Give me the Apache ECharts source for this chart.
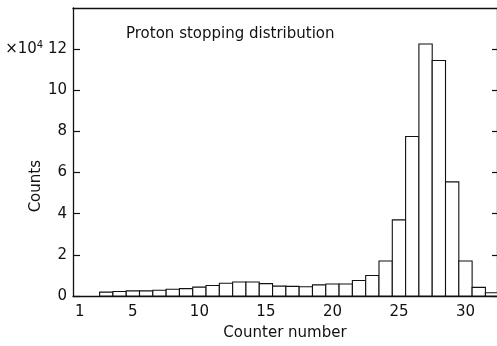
<!DOCTYPE html>
<html>
<head>
<meta charset="utf-8">
<script src="https://cdn.jsdelivr.net/npm/echarts@6/dist/echarts.min.js"></script>
<style>
  html, body { margin: 0; padding: 0; background: #fff; }
  #chart { width: 497px; height: 346px; }
</style>
</head>
<body>
<div id="chart"></div>
<script>
// counter numbers and counts (in units of 10^4)
var counters = [3, 4, 5, 6, 7, 8, 9, 10, 11, 12, 13, 14, 15, 16, 17, 18, 19, 20, 21, 22, 23, 24, 25, 26, 27, 28, 29, 30, 31, 32];
var counts = [0.19, 0.22, 0.25, 0.25, 0.28, 0.33, 0.36, 0.43, 0.51, 0.62, 0.68, 0.68, 0.6, 0.48, 0.47, 0.45, 0.54, 0.58, 0.58, 0.75, 1.0, 1.7, 3.7, 7.75, 12.25, 11.45, 5.55, 1.7, 0.42, 0.16];
var xTickLabels = [1, 5, 10, 15, 20, 25, 30];
var yTickValues = [0, 2, 4, 6, 8, 10, 12];

var font = 'DejaVu Sans';
var chart = echarts.init(document.getElementById('chart'));

var histData = counters.map(function (c, i) { return [c, counts[i]]; });

var option = {
  animation: false,
  backgroundColor: '#fff',
  title: {
    text: 'Proton stopping distribution',
    left: 121, top: 22,
    textStyle: { fontFamily: font, fontSize: 15, fontWeight: 'normal', color: '#111' }
  },
  grid: { left: 73, top: 8, width: 427, height: 288 },
  xAxis: [{
    type: 'value', min: 0.5, max: 32.37,
    name: 'Counter number', nameLocation: 'middle', nameGap: 30,
    nameTextStyle: { fontFamily: font, fontSize: 15, color: '#111' },
    axisLine: { lineStyle: { color: '#111', width: 1.3 } },
    axisTick: { show: false },
    splitLine: { show: false },
    axisLabel: { customValues: xTickLabels, fontFamily: font, fontSize: 15, color: '#111', margin: 9 }
  }, {
    type: 'value', min: 0.5, max: 32.37, position: 'top',
    axisLine: { show: true, onZero: false, lineStyle: { color: '#111', width: 1.3 } },
    axisTick: { show: false }, axisLabel: { show: false }, splitLine: { show: false }
  }],
  yAxis: [{
    type: 'value', min: 0, max: 14, interval: 2,
    axisLine: { show: true, lineStyle: { color: '#111', width: 1.3 } },
    axisTick: { show: true, inside: true, length: 7, customValues: yTickValues, lineStyle: { color: '#111', width: 1.2 } },
    splitLine: { show: false },
    axisLabel: {
      customValues: yTickValues, fontFamily: font, fontSize: 15, color: '#111', margin: 6,
      formatter: function (v) { return v === 12 ? '{m|×10}{s|4}{m| 12}' : String(v); },
      rich: {
        m: { fontFamily: font, fontSize: 15, color: '#111' },
        s: { fontFamily: font, fontSize: 10, color: '#111', padding: [0, 0, 8, 0] }
      }
    }
  }, {
    type: 'value', min: 0, max: 14, interval: 2, position: 'right',
    axisLine: { show: true, lineStyle: { color: '#111', width: 1.3 } },
    axisTick: { show: true, inside: true, length: 5, customValues: yTickValues, lineStyle: { color: '#111', width: 1.2 } },
    axisLabel: { show: false }, splitLine: { show: false }
  }],
  graphic: [{
    type: 'text', left: 29, top: 160, rotation: Math.PI / 2,
    style: { text: 'Counts', font: '15px "DejaVu Sans"', fill: '#111' }
  }],
  series: [{
    type: 'custom',
    xAxisIndex: 0, yAxisIndex: 0,
    data: histData,
    clip: true,
    renderItem: function (params, api) {
      var c = api.value(0), v = api.value(1);
      var p0 = api.coord([c - 0.5, 0]);
      var p1 = api.coord([c + 0.5, v]);
      return {
        type: 'rect',
        shape: { x: p0[0], y: p1[1], width: p1[0] - p0[0], height: p0[1] - p1[1] },
        style: { fill: '#fff', stroke: '#111', lineWidth: 1.1 }
      };
    }
  }]
};
chart.setOption(option);
</script>
</body>
</html>
